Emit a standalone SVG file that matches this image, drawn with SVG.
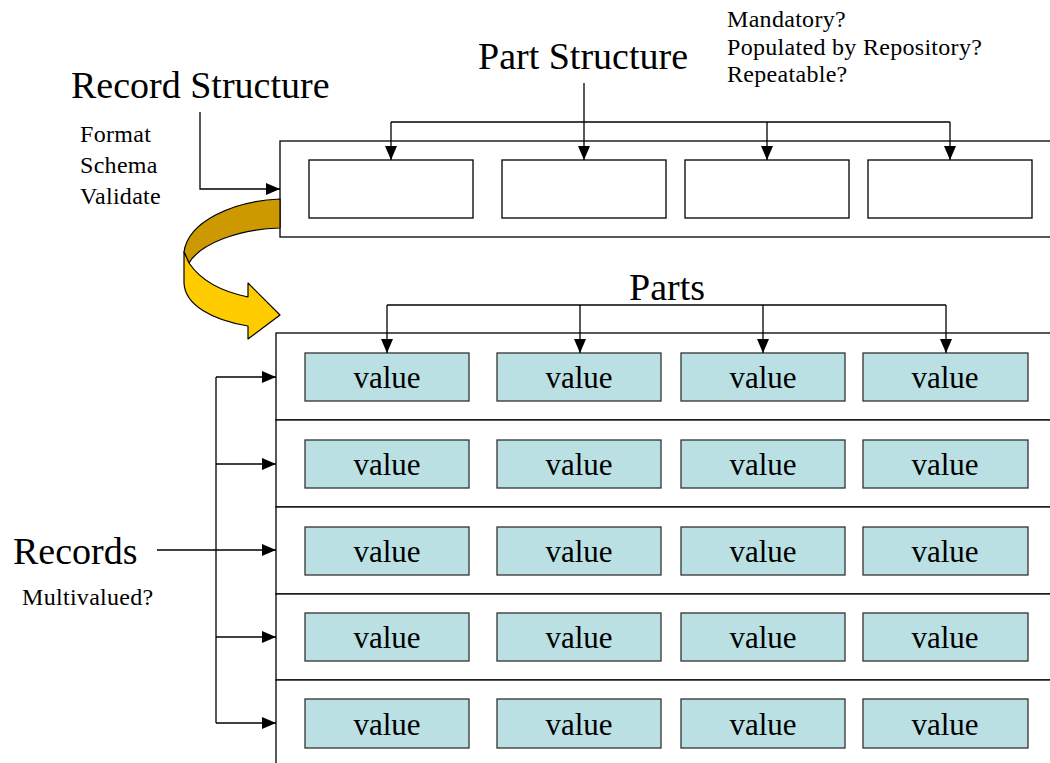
<svg xmlns="http://www.w3.org/2000/svg" width="1050" height="763" viewBox="0 0 1050 763">
<defs>
<marker id="ah" markerUnits="userSpaceOnUse" markerWidth="14" markerHeight="14" viewBox="0 0 14 14" refX="14" refY="7" orient="auto">
<path d="M0,1 L14,7 L0,13 Z" fill="#000"/>
</marker>
<style>
.ln{fill:none;stroke:#000;stroke-width:1.3}
.ar{fill:none;stroke:#000;stroke-width:1.3;marker-end:url(#ah)}
.frame{fill:#fff;stroke:#000;stroke-width:1.3}
.slot{fill:#fff;stroke:#000;stroke-width:1.3}
.val{fill:#BBE0E3;stroke:#333;stroke-width:1.3}
.big{font-family:"Liberation Serif",serif;font-size:38px;fill:#000}
.vt{font-family:"Liberation Serif",serif;font-size:31px;fill:#000;text-anchor:middle}
.sm{font-family:"Liberation Serif",serif;font-size:24px;letter-spacing:0.3px;fill:#000}
</style>
</defs>
<rect width="1050" height="763" fill="#fff"/>

<g id="record-structure-label">
<text class="big" x="71" y="98">Record Structure</text>
<text class="sm" x="80" y="142">Format</text>
<text class="sm" x="80" y="173">Schema</text>
<text class="sm" x="80" y="204">Validate</text>
</g>
<g id="part-structure-label">
<text class="big" x="478" y="69">Part Structure</text>
<text class="sm" x="727" y="27">Mandatory?</text>
<text class="sm" x="727" y="55">Populated by Repository?</text>
<text class="sm" x="727" y="82">Repeatable?</text>
</g>

<g id="structure">
<rect class="frame" x="280" y="141" width="800" height="96"/>
<rect class="slot" x="309" y="160" width="164" height="58"/>
<rect class="slot" x="502" y="160" width="164" height="58"/>
<rect class="slot" x="685" y="160" width="164" height="58"/>
<rect class="slot" x="868" y="160" width="164" height="58"/>
</g>

<g id="curved-arrow" stroke="#000" stroke-width="1.2" stroke-linejoin="round">
<path d="M280,199 C232,201 188,222 184,252 L189,263 C200,244 238,229 280,228 Z" fill="#CC9900"/>
<path d="M184,252 L189,263 C201,281 224,292 248,297 L248,283 L280,315 L248,339 L248,326 C212,320 185,305 184,283 Z" fill="#FFCC00"/>
</g>

<g id="parts-label">
<text class="big" x="629" y="300">Parts</text>
</g>

<g id="records">
<rect class="frame" x="276" y="333" width="800" height="87"/>
<rect class="frame" x="276" y="420" width="800" height="87"/>
<rect class="frame" x="276" y="507" width="800" height="87"/>
<rect class="frame" x="276" y="594" width="800" height="86"/>
<rect class="frame" x="276" y="680" width="800" height="100"/>
</g>

<g id="values">
<g id="row1">
<rect class="val" x="305" y="353" width="164" height="48"/><text class="vt" x="387" y="388">value</text>
<rect class="val" x="497" y="353" width="164" height="48"/><text class="vt" x="579" y="388">value</text>
<rect class="val" x="681" y="353" width="164" height="48"/><text class="vt" x="763" y="388">value</text>
<rect class="val" x="863" y="353" width="165" height="48"/><text class="vt" x="945" y="388">value</text>
</g>
<g id="row2">
<rect class="val" x="305" y="440" width="164" height="48"/><text class="vt" x="387" y="475">value</text>
<rect class="val" x="497" y="440" width="164" height="48"/><text class="vt" x="579" y="475">value</text>
<rect class="val" x="681" y="440" width="164" height="48"/><text class="vt" x="763" y="475">value</text>
<rect class="val" x="863" y="440" width="165" height="48"/><text class="vt" x="945" y="475">value</text>
</g>
<g id="row3">
<rect class="val" x="305" y="527" width="164" height="48"/><text class="vt" x="387" y="562">value</text>
<rect class="val" x="497" y="527" width="164" height="48"/><text class="vt" x="579" y="562">value</text>
<rect class="val" x="681" y="527" width="164" height="48"/><text class="vt" x="763" y="562">value</text>
<rect class="val" x="863" y="527" width="165" height="48"/><text class="vt" x="945" y="562">value</text>
</g>
<g id="row4">
<rect class="val" x="305" y="613" width="164" height="48"/><text class="vt" x="387" y="648">value</text>
<rect class="val" x="497" y="613" width="164" height="48"/><text class="vt" x="579" y="648">value</text>
<rect class="val" x="681" y="613" width="164" height="48"/><text class="vt" x="763" y="648">value</text>
<rect class="val" x="863" y="613" width="165" height="48"/><text class="vt" x="945" y="648">value</text>
</g>
<g id="row5">
<rect class="val" x="305" y="699" width="164" height="49"/><text class="vt" x="387" y="735">value</text>
<rect class="val" x="497" y="699" width="164" height="49"/><text class="vt" x="579" y="735">value</text>
<rect class="val" x="681" y="699" width="164" height="49"/><text class="vt" x="763" y="735">value</text>
<rect class="val" x="863" y="699" width="165" height="49"/><text class="vt" x="945" y="735">value</text>
</g>
</g>

<g id="records-label">
<text class="big" x="13" y="564">Records</text>
<text class="sm" x="22" y="605">Multivalued?</text>
</g>

<g id="connectors">
<polyline class="ar" points="200,112 200,189 280,189"/>
<line class="ln" x1="391" y1="122" x2="950" y2="122"/>
<line class="ar" x1="584" y1="83" x2="584" y2="160"/>
<line class="ar" x1="391" y1="122" x2="391" y2="160"/>
<line class="ar" x1="767" y1="122" x2="767" y2="160"/>
<line class="ar" x1="950" y1="122" x2="950" y2="160"/>
<line class="ln" x1="387" y1="305" x2="946" y2="305"/>
<line class="ar" x1="387" y1="305" x2="387" y2="353"/>
<line class="ar" x1="580" y1="305" x2="580" y2="353"/>
<line class="ar" x1="763" y1="305" x2="763" y2="353"/>
<line class="ar" x1="946" y1="305" x2="946" y2="353"/>
<line class="ln" x1="216" y1="377" x2="216" y2="723"/>
<line class="ar" x1="216" y1="377" x2="276" y2="377"/>
<line class="ar" x1="216" y1="464" x2="276" y2="464"/>
<line class="ar" x1="157" y1="550" x2="276" y2="550"/>
<line class="ar" x1="216" y1="637" x2="276" y2="637"/>
<line class="ar" x1="216" y1="723" x2="276" y2="723"/>
</g>
</svg>
